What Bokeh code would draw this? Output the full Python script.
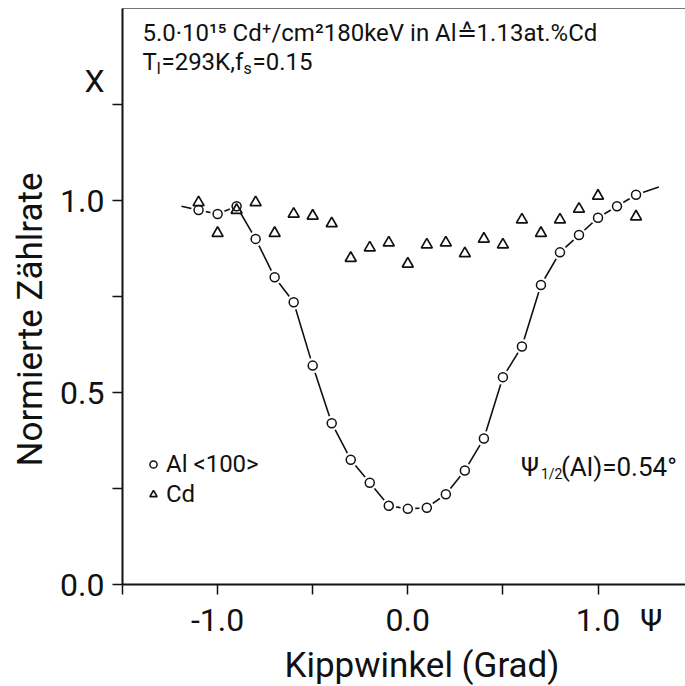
from bokeh.plotting import figure
from bokeh.models import Range1d, FixedTicker, LinearAxis, Label, Legend, LegendItem, Title
from bokeh.embed import file_html
from bokeh.resources import INLINE

# ---- data ----
tilt_al = [-1.1, -1.0, -0.9, -0.8, -0.7, -0.6, -0.5, -0.4, -0.3, -0.2, -0.1, 0.0,
           0.1, 0.2, 0.3, 0.4, 0.5, 0.6, 0.7, 0.8, 0.9, 1.0, 1.1, 1.2]
rate_al = [0.975, 0.965, 0.985, 0.90, 0.80, 0.735, 0.57, 0.42, 0.325, 0.265, 0.205, 0.197,
           0.20, 0.235, 0.297, 0.38, 0.54, 0.62, 0.78, 0.865, 0.91, 0.955, 0.985, 1.015]
tilt_cd = [-1.1, -1.0, -0.9, -0.8, -0.7, -0.6, -0.5, -0.4, -0.3, -0.2, -0.1, 0.0,
           0.1, 0.2, 0.3, 0.4, 0.5, 0.6, 0.7, 0.8, 0.9, 1.0, 1.2]
rate_cd = [0.995, 0.915, 0.975, 0.995, 0.915, 0.965, 0.96, 0.94, 0.85, 0.877, 0.89, 0.835,
           0.885, 0.89, 0.862, 0.90, 0.885, 0.95, 0.915, 0.95, 0.978, 1.012, 0.958]
# guide curve through the Al points, with its drawn ends
curve_x = [-1.19] + tilt_al + [1.32]
curve_y = [0.985] + rate_al + [1.035]

# tick marks (drawn as minor ticks) and labelled positions (major ticks, marks hidden)
x_marks = [-1.5, -1.0, -0.5, 0.0, 0.5, 1.0]
x_label_pos = [-1.0, 0.0, 1.0, 1.28]
x_label_txt = ["-1.0", "0.0", "1.0", "Ψ"]
y_marks = [0.0, 0.25, 0.5, 0.75, 1.0, 1.25]
y_label_pos = [0.0, 0.5, 1.0, 1.31]
y_label_txt = ["0.0", "0.5", "1.0", "X"]

FONT = "Roboto"
INK = "#111111"

p = figure(width=685, height=686, x_range=Range1d(-1.5, 1.46), y_range=Range1d(0, 1.5),
           output_backend="svg", toolbar_location=None,
           min_border_left=122, min_border_right=0, min_border_top=8, min_border_bottom=98)
p.outline_line_color = None
p.xgrid.visible = False
p.ygrid.visible = False
p.background_fill_color = "white"

# curve, with gaps round the circles
p.line(curve_x, curve_y, line_color=INK, line_width=1.6)
p.scatter(tilt_al, rate_al, marker="circle", size=15, fill_color="white", line_color=None)
r_al = p.scatter(tilt_al, rate_al, marker="circle", size=9, fill_color="white",
                 line_color=INK, line_width=1.5)
r_cd = p.scatter(tilt_cd, rate_cd, marker="triangle", size=11, fill_color=None,
                 line_color=INK, line_width=1.7)

def style_axis(ax, marks, pos, txt, standoff):
    ax.ticker = FixedTicker(ticks=pos, minor_ticks=marks)
    ax.major_label_overrides = dict(zip(pos, txt))
    ax.major_tick_line_color = None
    ax.major_tick_in = 0
    ax.major_tick_out = 10
    ax.minor_tick_line_color = INK
    ax.minor_tick_line_width = 1.5
    ax.minor_tick_in = 0
    ax.minor_tick_out = 10
    ax.axis_line_width = 2
    ax.axis_line_color = INK
    ax.major_label_text_font = FONT
    ax.major_label_text_font_size = "32px"
    ax.major_label_text_color = INK
    ax.major_label_standoff = standoff

style_axis(p.xaxis[0], x_marks, x_label_pos, x_label_txt, 6)
style_axis(p.yaxis[0], y_marks, y_label_pos, y_label_txt, 8)

p.add_layout(Title(text="Kippwinkel (Grad)", align="left", offset=162, standoff=2,
                   text_font=FONT, text_font_size="35px", text_font_style="normal",
                   text_color=INK), "below")
p.add_layout(Title(text="Normierte Zählrate", align="left", offset=118, standoff=14,
                   text_font=FONT, text_font_size="35px", text_font_style="normal",
                   text_color=INK), "left")

top = LinearAxis(ticker=FixedTicker(ticks=[]), axis_line_color="#777777", axis_line_width=1,
                 major_tick_line_color=None, minor_tick_line_color=None,
                 major_label_standoff=0)
p.add_layout(top, "above")

def lab(x, y, t, size, dx=0, dy=0):
    p.add_layout(Label(x=x, y=y, x_offset=dx, y_offset=dy, text=t, text_font=FONT,
                       text_font_size=size, text_color=INK, text_align="left",
                       text_baseline="alphabetic"))

# header text
lab(-1.395, 1.437, "5.0·10¹⁵ Cd⁺/cm²180keV in Al≙1.13at.%Cd", "24px")
lab(-1.395, 1.36, "T", "24px")
lab(-1.395, 1.36, "I", "16px", dx=14, dy=-6)
lab(-1.395, 1.36, "=293K,f", "24px", dx=19)
lab(-1.395, 1.36, "s", "16px", dx=101, dy=-6)
lab(-1.395, 1.36, "=0.15", "24px", dx=110)

# half-width annotation
lab(0.595, 0.305, "Ψ", "26px")
lab(0.595, 0.305, "1/2", "14px", dx=20, dy=-7)
lab(0.595, 0.305, "(Al)=0.54°", "26px", dx=40)

legend = Legend(items=[LegendItem(label="Al <100>", renderers=[r_al]),
                       LegendItem(label="Cd", renderers=[r_cd])],
                location=(22, 76), background_fill_alpha=0, border_line_color=None,
                label_text_font=FONT, label_text_font_size="24px", label_text_color=INK,
                glyph_width=18, glyph_height=20, label_standoff=4, spacing=2,
                padding=0, margin=0)
p.add_layout(legend)

open("out.html", "w").write(file_html(p, INLINE))
